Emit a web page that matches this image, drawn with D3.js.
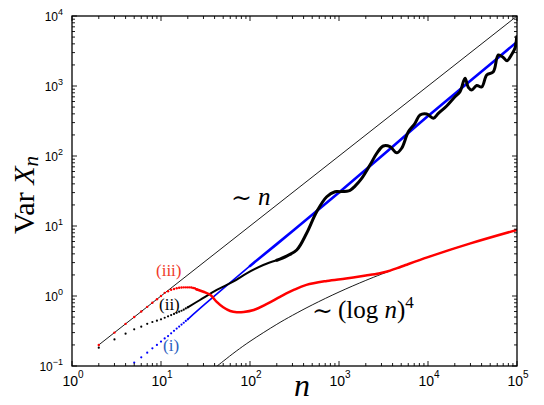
<!DOCTYPE html>
<html>
<head>
<meta charset="utf-8">
<script src="https://cdn.jsdelivr.net/npm/d3@7"></script>
<style>
  body { margin: 0; background: #fff; }
  svg { display: block; }
</style>
</head>
<body>
<svg width="544" height="405"></svg>
<script>
// axis ticks
var xTicks = [1, 10, 100, 1e3, 1e4, 1e5];
var yTicks = [0.1, 1, 10, 100, 1e3, 1e4];
var xTickExp = ["0", "1", "2", "3", "4", "5"];
var yTickExp = ["\u22121", "0", "1", "2", "3", "4"];

// reference line ~ n
var linN = [2, 1e5];
var linV = [0.2, 1e4];

// reference curve ~ (log n)^4
var logN = [40, 42, 50, 70, 100, 200, 300, 500, 1000, 2000, 3000, 5000, 1e4, 3e4, 1e5];
var logV = [0.093, 0.098, 0.117, 0.163, 0.225, 0.394, 0.529, 0.746, 1.14, 1.67, 2.05, 2.63, 3.6, 5.65, 8.78];

// (i) blue
var iDotN = [5, 6, 7, 8, 9, 10, 11, 12, 13, 14, 15, 16, 17, 18, 19, 20];
var iDotV = [0.112, 0.133, 0.155, 0.179, 0.2, 0.223, 0.248, 0.268, 0.293, 0.318, 0.342, 0.366, 0.391, 0.415, 0.44, 0.465];
var iLineN = [20, 31.6, 100, 316, 1000, 3162, 1e4, 31623, 1e5];
var iLineV = [0.465, 0.776, 2.69, 8.9, 30.2, 105, 372, 1259, 4266];

// (ii) black
var iiDotN = [2, 3, 4, 5, 6, 7, 8, 9, 10, 11, 12, 13, 14, 15, 16, 17, 18, 19, 20];
var iiDotV = [0.183, 0.24, 0.29, 0.334, 0.365, 0.4, 0.425, 0.444, 0.465, 0.489, 0.512, 0.534, 0.555, 0.575, 0.597, 0.616, 0.637, 0.664, 0.69];
var iiLineN = [20, 27.4, 42.3, 64.6, 91.8, 141, 200, 258, 335, 434, 561, 728, 902, 1026, 1330, 1514, 1799, 2228, 2655, 3148, 3741, 4446, 5058, 6012, 7145, 8128, 9661, 11482, 13062, 16218, 20091, 22909, 26062, 28379, 30974, 35237, 40088, 45709, 54200, 61660, 70146, 77268, 87096, 95060, 99312];
var iiLineV = [0.69, 0.877, 1.22, 1.6, 2.11, 2.77, 3.24, 3.72, 4.54, 7.94, 16.0, 26.2, 30.9, 30.9, 32.4, 37.2, 48.0, 74.3, 109, 139, 136, 111, 129, 222, 293, 385, 398, 346, 407, 518, 703, 830, 1288, 955, 877, 1016, 968, 1436, 1600, 2773, 2553, 2296, 2818, 3491, 5058];

// (iii) red
var iiiDotN = [2, 3, 4, 5, 6, 7, 8, 9, 10, 11, 12, 13, 14, 15, 16, 17, 18, 19, 20, 21, 22, 23, 24, 25];
var iiiDotV = [0.2, 0.3, 0.4, 0.5, 0.6, 0.7, 0.8, 0.9, 1.0, 1.11, 1.17, 1.23, 1.26, 1.29, 1.31, 1.32, 1.33, 1.33, 1.33, 1.33, 1.32, 1.3, 1.29, 1.25];
var iiiLineN = [25, 30, 36, 42, 50, 60, 71, 85, 110, 155, 220, 310, 430, 730, 1200, 2000, 2800, 3400, 4500, 5600, 1e4, 3e4, 1e5];
var iiiLineV = [1.25, 1.15, 1.03, 0.83, 0.69, 0.61, 0.585, 0.59, 0.63, 0.77, 0.98, 1.22, 1.44, 1.64, 1.78, 1.96, 2.1, 2.22, 2.5, 2.77, 3.6, 5.65, 8.8];

d3.select(window).on('load', init);

function init() {
    var svg = d3.select("svg"),
        left = 72, right = 517, top = 16, bottom = 366;

    var x = d3.scaleLog().domain([1, 1e5]).range([left, right]);
    var y = d3.scaleLog().domain([0.1, 1e4]).range([bottom, top]);

    svg.append("clipPath").attr("id", "plot")
        .append("rect")
        .attr("x", left).attr("y", top)
        .attr("width", right - left).attr("height", bottom - top);

    var g = svg.append("g").attr("clip-path", "url(#plot)");

    function pairs(ns, vs) {
        return ns.map(function(n, i) { return [n, vs[i]]; });
    }

    var line = d3.line()
        .x(function(d) { return x(d[0]); })
        .y(function(d) { return y(d[1]); })
        .curve(d3.curveCatmullRom);

    function drawLine(data, color, width) {
        g.append("path")
            .datum(data)
            .attr("fill", "none")
            .attr("stroke", color)
            .attr("stroke-width", width)
            .attr("stroke-linejoin", "round")
            .attr("stroke-linecap", "round")
            .attr("d", line);
    }

    function drawDots(data, color, r) {
        g.append("g").selectAll("circle")
            .data(data)
            .enter().append("circle")
            .attr("cx", function(d) { return x(d[0]); })
            .attr("cy", function(d) { return y(d[1]); })
            .attr("r", r)
            .attr("fill", color);
    }

    // thin guide lines
    drawLine(pairs(linN, linV), "#000", 0.9);
    drawLine(pairs(logN, logV), "#000", 0.9);

    // (i)
    var iLine = pairs(iLineN, iLineV);
    drawDots(pairs(iDotN, iDotV), "#0000ff", 1.1);
    drawLine(iLine.slice(0, 3), "#0000ff", 1.6);
    drawLine(iLine.slice(2), "#0000ff", 2.6);

    // (ii)
    var iiLine = pairs(iiLineN, iiLineV);
    drawDots(pairs(iiDotN, iiDotV), "#000", 1.1);
    drawLine(iiLine.slice(0, 7), "#000", 2);
    drawLine(iiLine.slice(6), "#000", 3);

    // (iii)
    drawDots(pairs(iiiDotN, iiiDotV), "#ff0000", 1.2);
    drawLine(pairs(iiiLineN, iiiLineV), "#ff0000", 2.5);

    // frame and ticks
    var axes = svg.append("g");
    axes.append("rect")
        .attr("x", left).attr("y", top)
        .attr("width", right - left).attr("height", bottom - top)
        .attr("fill", "none")
        .attr("stroke", "#000")
        .attr("stroke-width", 1.3);

    function minorTicks(dom) {
        var out = [];
        for (var e = Math.log10(dom[0]); e < Math.log10(dom[1]); e++) {
            for (var k = 2; k <= 9; k++) out.push(k * Math.pow(10, e));
        }
        return out;
    }

    var xMinor = minorTicks(x.domain()), yMinor = minorTicks(y.domain());

    function tickSet(vals, len) {
        vals.forEach(function(v) {
            var px = x(v);
            axes.append("line").attr("x1", px).attr("x2", px).attr("y1", bottom).attr("y2", bottom - len);
            axes.append("line").attr("x1", px).attr("x2", px).attr("y1", top).attr("y2", top + len);
        });
    }
    function tickSetY(vals, len) {
        vals.forEach(function(v) {
            var py = y(v);
            axes.append("line").attr("y1", py).attr("y2", py).attr("x1", left).attr("x2", left + len);
            axes.append("line").attr("y1", py).attr("y2", py).attr("x1", right).attr("x2", right - len);
        });
    }
    tickSet(xTicks, 5);
    tickSet(xMinor, 3);
    tickSetY(yTicks, 5);
    tickSetY(yMinor, 3);
    axes.selectAll("line").attr("stroke", "#000").attr("stroke-width", 0.9);

    // tick labels
    var xl = svg.append("g")
        .attr("font-family", "Liberation Sans, Arial, sans-serif")
        .attr("font-size", 14)
        .attr("text-anchor", "middle");
    xTicks.forEach(function(v, i) {
        var t = xl.append("text").attr("x", x(v) + 1).attr("y", 386);
        t.append("tspan").text("10");
        t.append("tspan").attr("dy", -8).attr("font-size", 10).text(xTickExp[i]);
    });

    var yl = svg.append("g")
        .attr("font-family", "Liberation Sans, Arial, sans-serif")
        .attr("font-size", 12)
        .attr("text-anchor", "end");
    yTicks.forEach(function(v, i) {
        var t = yl.append("text").attr("x", 63).attr("y", y(v) + 4.5);
        t.append("tspan").text("10");
        t.append("tspan").attr("dy", -6).attr("font-size", 9).text(yTickExp[i]);
    });

    // axis titles
    var serif = "Liberation Serif, DejaVu Serif, serif";
    var yt = svg.append("text")
        .attr("transform", "translate(34,195) rotate(-90)")
        .attr("font-family", serif)
        .attr("font-size", 30)
        .attr("text-anchor", "middle");
    yt.append("tspan").text("Var ");
    yt.append("tspan").attr("font-style", "italic").text("X");
    yt.append("tspan").attr("font-style", "italic").attr("font-size", 21).attr("dy", 4).text("n");

    svg.append("text")
        .attr("x", 302).attr("y", 396)
        .attr("font-family", serif)
        .attr("font-size", 32)
        .attr("font-style", "italic")
        .attr("text-anchor", "middle")
        .text("n");

    // annotations
    var ann = svg.append("g").attr("font-family", serif).attr("font-size", 25);
    ann.append("text").attr("x", 231).attr("y", 206).text("\u223C");
    ann.append("text").attr("x", 258).attr("y", 205).attr("font-style", "italic").text("n");

    ann.append("text").attr("x", 312).attr("y", 319).text("\u223C");
    var lg = ann.append("text").attr("x", 338).attr("y", 318);
    lg.append("tspan").text("(log ");
    lg.append("tspan").attr("font-style", "italic").text("n");
    lg.append("tspan").text(")");
    lg.append("tspan").attr("font-size", 17).attr("dy", -10).text("4");

    var lab = svg.append("g").attr("font-family", serif).attr("font-size", 17);
    lab.append("text").attr("x", 156).attr("y", 276).attr("fill", "#f03a2a").text("(iii)");
    lab.append("text").attr("x", 159).attr("y", 310).attr("fill", "#000").text("(ii)");
    lab.append("text").attr("x", 163).attr("y", 351).attr("fill", "#2d5fbf").text("(i)");
}
</script>
</body>
</html>
